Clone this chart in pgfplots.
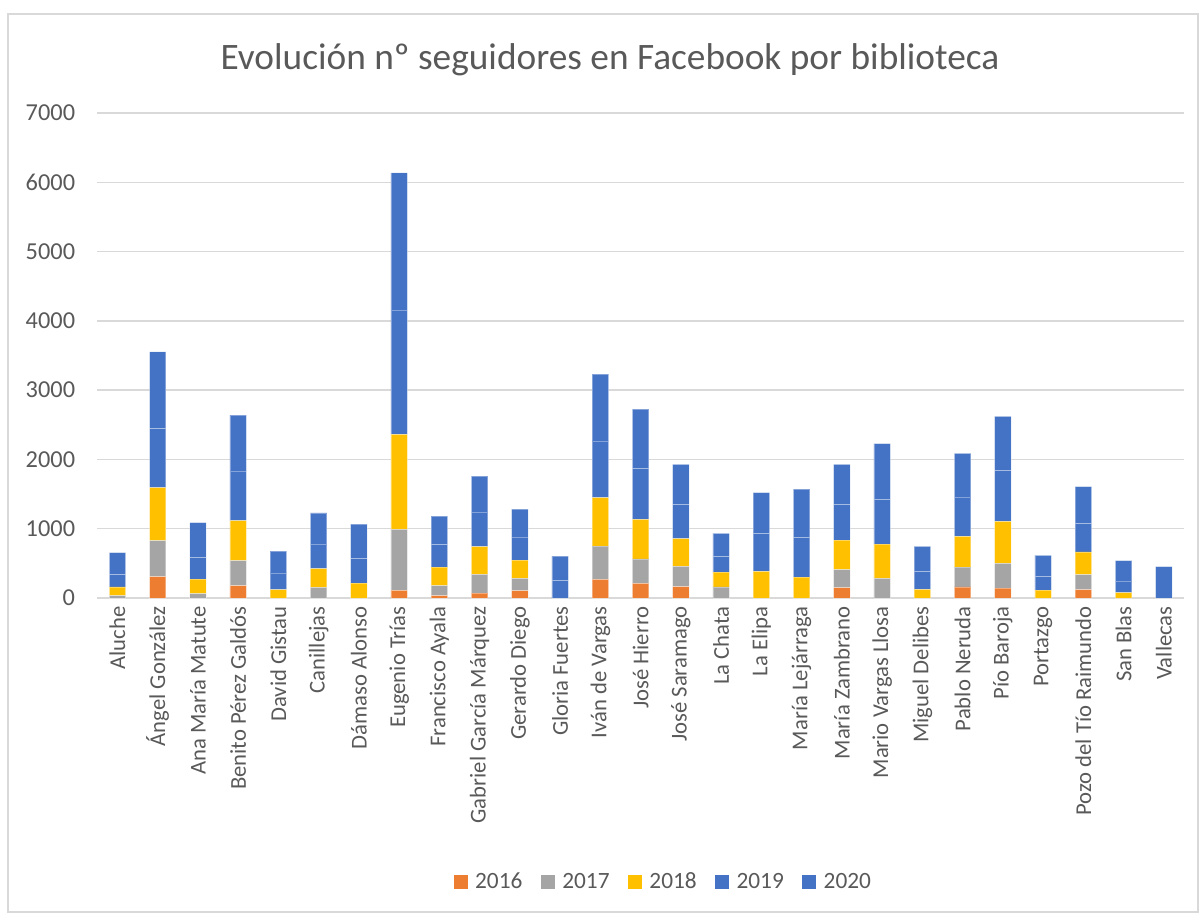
\documentclass[border=0pt]{standalone}
\usepackage{pgfplots}
\pgfplotsset{compat=1.18}
\usepackage{pgfplotstable}
\usepackage{fontspec}
\setmainfont{Carlito}
\definecolor{c16}{HTML}{ED7D31}
\definecolor{c17}{HTML}{A5A5A5}
\definecolor{c18}{HTML}{FFC000}
\definecolor{c19}{HTML}{4472C4}
\definecolor{c20}{HTML}{4472C4}
\definecolor{txt}{HTML}{595959}
\definecolor{grd}{HTML}{D9D9D9}

\pgfplotstableread{
idx a16 a17 a18 a19 a20
0 0 33 126 183 312
1 307 520 765 850 1112
2 0 62 212 313 500
3 177 361 577 718 808
4 0 0 120 241 317
5 0 154 269 356 448
6 0 0 216 357 495
7 111 880 1371 1794 1981
8 33 144 270 328 408
9 72 270 398 501 519
10 105 179 264 332 404
11 0 0 0 255 351
12 270 480 697 819 966
13 212 351 573 735 856
14 163 294 399 496 577
15 0 159 216 227 332
16 0 0 385 549 586
17 0 0 303 573 697
18 149 259 429 515 577
19 0 284 495 645 803
20 0 0 126 259 361
21 159 288 443 567 631
22 144 357 606 736 779
23 0 0 115 198 303
24 120 216 328 414 528
25 0 0 77 168 293
26 0 0 0 452 0
}\datatable

\begin{document}
\begin{tikzpicture}
\path[use as bounding box] (0,0) rectangle (720pt,549pt);
\draw[color=grd, line width=0.8pt] (4.8pt,1.8pt) rectangle (718.8pt,540.6pt);
\node[anchor=base, text=txt, font=\fontsize{22.4}{25}\selectfont] at (366pt,507.3pt) {Evolución nº seguidores en Facebook por biblioteca};
\begin{axis}[
  at={(58.38pt,190.2pt)}, anchor=south west,
  scale only axis, width=652pt, height=291pt,
  ybar stacked, bar width=9.8pt,
  xmin=-0.5, xmax=26.5, ymin=0, ymax=7000,
  ytick={0,1000,...,7000},
  xtick={0,...,26},
  xticklabels={Aluche,Ángel González,Ana María Matute,Benito Pérez Galdós,David Gistau,Canillejas,Dámaso Alonso,Eugenio Trías,Francisco Ayala,Gabriel García Márquez,Gerardo Diego,Gloria Fuertes,Iván de Vargas,José Hierro,José Saramago,La Chata,La Elipa,María Lejárraga,María Zambrano,Mario Vargas Llosa,Miguel Delibes,Pablo Neruda,Pío Baroja,Portazgo,Pozo del Tío Raimundo,San Blas,Vallecas},
  x tick label style={yshift=-1.5pt, rotate=90, anchor=east, font=\fontsize{13.6}{16}\selectfont, text=txt},
  y tick label style={font=\fontsize{14.6}{17}\selectfont, text=txt, xshift=-9.8pt},
  /pgf/number format/assume math mode=true,
  /pgf/number format/1000 sep={},
  ymajorgrids, major grid style={color=grd, line width=0.9pt},
  axis line style={draw=none},
  major tick length=0pt,
  every axis plot/.append style={draw=white, draw opacity=0.35, line width=0.5pt},
  legend columns=-1,
  legend style={at={(0.5215,-0.5856)}, anchor=center, draw=none, fill=none,
    font=\fontsize{14}{16}\selectfont, text=txt,
    /tikz/every odd column/.append style={column sep=2.5pt},
    /tikz/every even column/.append style={column sep=9pt}},
  legend image code/.code={\fill[#1, draw=none] (0pt,-4.2pt) rectangle (8.4pt,4.2pt);},
]
\addplot[fill=c16] table[x=idx,y=a16]{\datatable};
\addplot[fill=c17] table[x=idx,y=a17]{\datatable};
\addplot[fill=c18] table[x=idx,y=a18]{\datatable};
\addplot[fill=c19] table[x=idx,y=a19]{\datatable};
\addplot[fill=c20] table[x=idx,y=a20]{\datatable};
\legend{2016,2017,2018,2019,2020}
\end{axis}
\end{tikzpicture}
\end{document}
